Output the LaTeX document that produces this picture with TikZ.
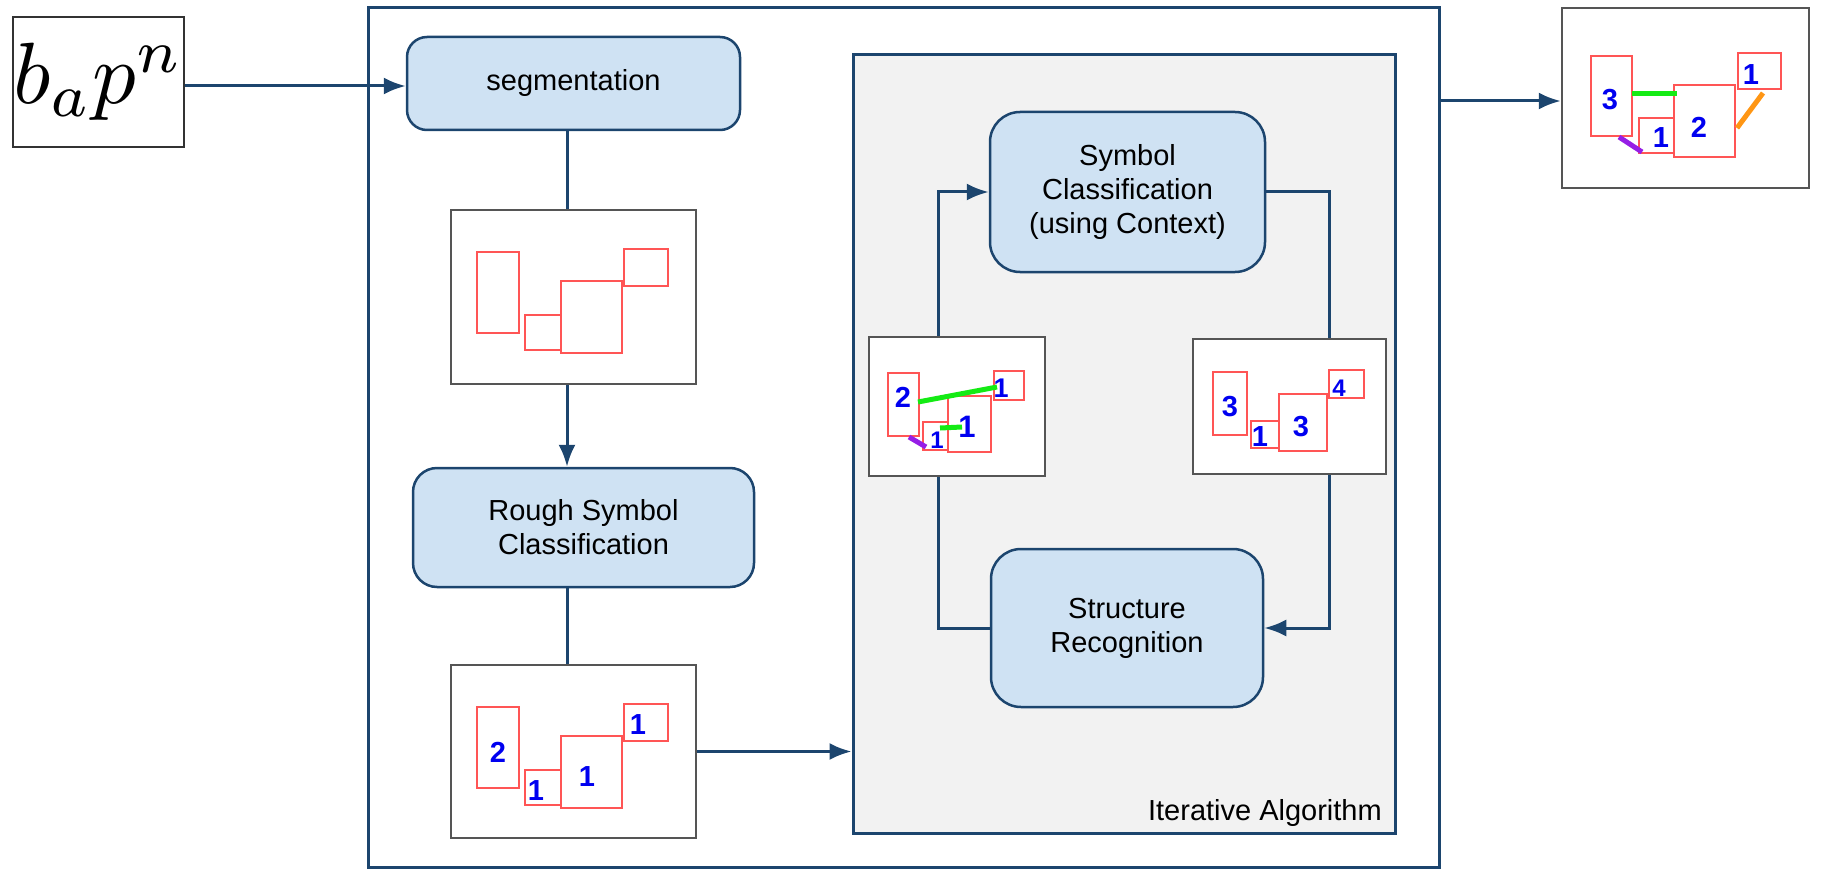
\documentclass[tikz,border=0pt]{standalone}
\usepackage{fontspec}
\setmainfont{Liberation Sans}
\usetikzlibrary{arrows.meta}
\definecolor{navy}{RGB}{28,69,110}
\definecolor{procfill}{RGB}{207,226,243}
\definecolor{iterfill}{RGB}{242,242,242}
\definecolor{imgborder}{RGB}{85,85,85}
\definecolor{redbox}{RGB}{255,85,85}
\definecolor{digitblue}{RGB}{0,0,240}
\definecolor{lgreen}{RGB}{20,235,20}
\definecolor{lpurple}{RGB}{150,30,230}
\definecolor{lorange}{RGB}{255,150,20}
\begin{document}
\begin{tikzpicture}[x=1pt,y=-1pt,
  conn/.style={navy, line width=3pt},
  arr/.style={conn, -{Latex[length=22pt,width=17pt]}},
  proc/.style={draw=navy, line width=2.5pt, fill=procfill, rounded corners=24pt,
    inner sep=0pt, align=center, font=\fontsize{29}{34}\selectfont},
  imgbox/.style={draw=imgborder, line width=2.5pt, fill=white, inner sep=0pt},
  rbox/.style={draw=redbox, line width=2pt},
  digit/.style={text=digitblue, inner sep=0pt, font=\bfseries\fontsize{29}{29}\selectfont},
  rel/.style={line width=5pt}
]
\useasboundingbox (0,0) rectangle (1830,869);

% outer frame
\node[draw=navy, line width=3pt, minimum width=1071pt, minimum height=859pt, inner sep=0pt] (outer) at (903.5,437.5) {};
% iterative algorithm frame
\node[draw=navy, line width=3pt, fill=iterfill, minimum width=542pt, minimum height=778pt, inner sep=0pt] (iter) at (1124,444) {};
\node[anchor=base east, inner sep=0pt, font=\fontsize{29}{34}\selectfont] (iterlabel) at (1382,820) {Iterative Algorithm};

% input formula
\node[draw=black!80, line width=1.5pt, minimum width=169pt, minimum height=130pt, inner sep=0pt] (bapn) at (98.5,82) {\scalebox{8.7}{$b_ap^n$}};

% process boxes
\node[proc, rounded corners=20pt, minimum width=333pt, minimum height=93pt] (seg) at (573.5,83.5) {segmentation};
\node[proc, minimum width=341pt, minimum height=119pt] (rough) at (583.5,527.5) {Rough Symbol\\Classification};
\node[proc, rounded corners=30pt, minimum width=275pt, minimum height=160pt] (symcl) at (1127.5,192) {Symbol\\Classification\\(using Context)};
\node[proc, rounded corners=30pt, minimum width=272pt, minimum height=158pt] (struct) at (1127,628) {Structure\\Recognition};

% image boxes
\node[imgbox, minimum width=245pt, minimum height=174pt] (img1) at (573.5,297) {};
\node[imgbox, minimum width=245pt, minimum height=173pt] (img2) at (573.5,751.5) {};
\node[imgbox, minimum width=176pt, minimum height=139pt] (img3) at (957,406.5) {};
\node[imgbox, minimum width=193pt, minimum height=135pt] (img4) at (1289.5,406.5) {};
\node[imgbox, minimum width=247pt, minimum height=180pt] (out) at (1685.5,98) {};

% helper coordinates for off-centre lines
\coordinate (cx) at (567,0);
\coordinate (lx) at (938,0);
\coordinate (rx) at (1329,0);
\coordinate (inrow) at (0,86);
\coordinate (outrow) at (0,101);

% connectors
\draw[arr] (bapn.east |- inrow) -- (seg.west |- inrow);
\draw[conn] (seg.south -| cx) -- (img1.north -| cx);
\draw[arr] (img1.south -| cx) -- (rough.north -| cx);
\draw[conn] (rough.south -| cx) -- (img2.north -| cx);
\draw[arr] (img2.east) -- (img2.east -| iter.west);
\draw[arr] (outer.east |- outrow) -- (out.west |- outrow);
\draw[conn] (symcl.east) -| (img4.north -| rx);
\draw[arr] (img4.south -| rx) |- (struct.east);
\draw[conn] (struct.west) -| (img3.south -| lx);
\draw[arr] (img3.north -| lx) |- (symcl.west);

% image 1 contents
\draw[rbox] (477,252) rectangle (519,333);
\draw[rbox] (525,315) rectangle (561,350);
\draw[rbox] (561,281) rectangle (622,353);
\draw[rbox] (624,249) rectangle (668,286);

% image 2 contents
\draw[rbox] (477,707) rectangle (519,788);
\draw[rbox] (525,770) rectangle (561,805);
\draw[rbox] (561,736) rectangle (622,808);
\draw[rbox] (624,704) rectangle (668,741);
\node[digit] (d2a) at (498,752) {2};
\node[digit] (d2b) at (536,791) {1};
\node[digit] (d2c) at (587,777) {1};
\node[digit] (d2d) at (638,725) {1};

% image 3 contents
\draw[rbox] (888,373) rectangle (919,436);
\draw[rbox] (923,422) rectangle (948,450);
\draw[rbox] (948,396) rectangle (991,452);
\draw[rbox] (994,371) rectangle (1024,400);
\node[digit] (d3a) at (903,397) {2};
\node[digit, font=\bfseries\fontsize{24}{24}\selectfont] (d3b) at (937,440) {1};
\node[digit, font=\bfseries\fontsize{31}{31}\selectfont] (d3c) at (967,427) {1};
\node[digit, font=\bfseries\fontsize{27}{27}\selectfont] (d3d) at (1001,388) {1};
\draw[rel, lgreen] (918,402) -- (997,387);
\draw[rel, lgreen] (940,428) -- (962,427);
\draw[rel, lpurple] (909,437) -- (926,447);

% image 4 contents
\draw[rbox] (1213,372) rectangle (1247,435);
\draw[rbox] (1251,421) rectangle (1279,448);
\draw[rbox] (1279,394) rectangle (1327,451);
\draw[rbox] (1329,370) rectangle (1364,398);
\node[digit] (d4a) at (1230,407) {3};
\node[digit] (d4b) at (1260,437) {1};
\node[digit] (d4c) at (1301,427) {3};
\node[digit, font=\bfseries\fontsize{24}{24}\selectfont] (d4d) at (1339,388) {4};

% output contents
\draw[rbox] (1591,56) rectangle (1632,136);
\draw[rbox] (1639,118) rectangle (1674,153);
\draw[rbox] (1674,85) rectangle (1735,157);
\draw[rbox] (1738,53) rectangle (1781,89);
\node[digit] (d5a) at (1610,100) {3};
\node[digit] (d5b) at (1661,138) {1};
\node[digit] (d5c) at (1699,127) {2};
\node[digit] (d5d) at (1751,75) {1};
\draw[rel, lgreen] (1632,94) -- (1677,94);
\draw[rel, lpurple] (1619,137) -- (1642,152);
\draw[rel, lorange] (1737,128) -- (1763,93);
\end{tikzpicture}
\end{document}
